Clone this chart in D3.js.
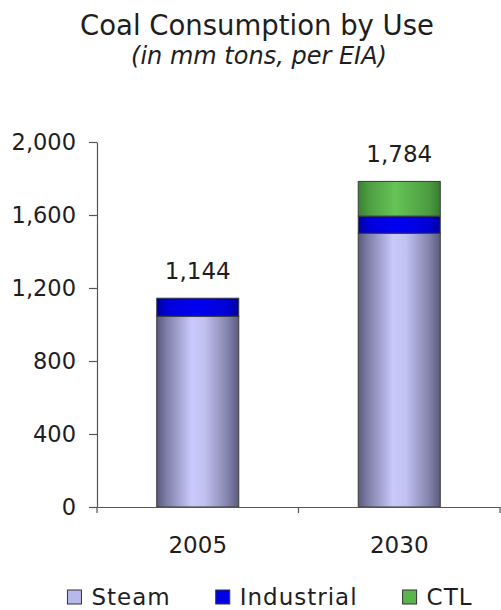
<!DOCTYPE html>
<html>
<head>
<meta charset="utf-8">
<script src="https://cdn.jsdelivr.net/npm/d3@7"></script>
<style>
  html, body { margin: 0; padding: 0; background: #fff; }
  svg { display: block; font-family: "DejaVu Sans", sans-serif; }
</style>
</head>
<body>
<svg id="chart" width="501" height="610"></svg>
<script>
const categories = ["2005", "2030"];
const seriesNames = ["Steam", "Industrial", "CTL"];
const steam = [1045, 1500];
const industrial = [99, 94];
const ctl = [0, 190];
const yTicks = [0, 400, 800, 1200, 1600, 2000];
const title = "Coal Consumption by Use";
const subtitle = "(in mm tons, per EIA)";

const rows = categories.map((c, i) => ({ cat: c, Steam: steam[i], Industrial: industrial[i], CTL: ctl[i] }));
const stack = d3.stack().keys(seriesNames)(rows);

const svg = d3.select("#chart");
const textColor = "#1e1e1e";
const axisColor = "#555";

const x = d3.scaleBand().domain(categories).range([97, 500]).paddingInner(0.593).paddingOuter(0.2965);
const y = d3.scaleLinear().domain([0, 2000]).range([507, 142]);

// gradients
const defs = svg.append("defs");
const grads = {
  Steam: [[0, "#5a5a7a"], [0.12, "#7e7ea8"], [0.42, "#c8c8fa"], [0.58, "#c2c2f2"], [0.86, "#8484ae"], [1, "#5c5c7c"]],
  Industrial: [[0, "#0000a0"], [0.14, "#0000dc"], [0.5, "#0000f2"], [0.86, "#0000d6"], [1, "#00009c"]],
  CTL: [[0, "#3a8232"], [0.14, "#4f9f43"], [0.45, "#66c456"], [0.86, "#4c9c41"], [1, "#387c30"]]
};
const legendFill = { Steam: "#b8b8ee", Industrial: "#0000e6", CTL: "#5ab64c" };
Object.entries(grads).forEach(([k, stops]) => {
  const g = defs.append("linearGradient").attr("id", "g-" + k).attr("x1", "0%").attr("x2", "100%").attr("y1", "0%").attr("y2", "0%");
  stops.forEach(([o, c]) => g.append("stop").attr("offset", o).attr("stop-color", c));
});

// title
svg.append("text").attr("x", 257).attr("y", 35).attr("text-anchor", "middle")
  .attr("font-size", 27.5).attr("fill", textColor).text(title);
svg.append("text").attr("x", 259).attr("y", 64).attr("text-anchor", "middle")
  .attr("font-size", 24).attr("font-style", "italic").attr("fill", textColor).text(subtitle);

// bars
stack.forEach(layer => {
  svg.append("g").selectAll("rect").data(layer.filter(d => d[1] - d[0] > 0)).join("rect")
    .attr("x", d => x(d.data.cat))
    .attr("width", x.bandwidth())
    .attr("y", d => y(d[1]))
    .attr("height", d => y(d[0]) - y(d[1]))
    .attr("fill", "url(#g-" + layer.key + ")")
    .attr("stroke", "#3a3a3a")
    .attr("stroke-width", 1);
});

// totals
svg.append("g").selectAll("text").data(rows).join("text")
  .attr("x", d => x(d.cat) + x.bandwidth() / 2)
  .attr("y", d => y(d.Steam + d.Industrial + d.CTL) - 19)
  .attr("text-anchor", "middle").attr("font-size", 23).attr("fill", textColor)
  .text(d => d3.format(",")(d.Steam + d.Industrial + d.CTL));

// y axis
const yAxis = svg.append("g").attr("transform", "translate(97,0)")
  .call(d3.axisLeft(y).tickValues(yTicks).tickFormat(d3.format(",")).tickSize(8).tickSizeOuter(0).tickPadding(13));
yAxis.selectAll("path, line").attr("stroke", axisColor).attr("stroke-width", 1.2);
yAxis.selectAll("text").attr("font-size", 22.5).attr("fill", textColor).attr("font-family", "DejaVu Sans");

// x axis
const xAxis = svg.append("g").attr("transform", "translate(0,507)")
  .call(d3.axisBottom(x).tickSize(0).tickSizeOuter(0).tickPadding(30));
xAxis.select("path").attr("stroke", axisColor).attr("stroke-width", 1.2);
xAxis.selectAll("text").attr("font-size", 23).attr("fill", textColor).attr("font-family", "DejaVu Sans");
const bounds = d3.range(categories.length + 1).map(i => x.range()[0] + i * x.step());
xAxis.selectAll("line.bound").data(bounds).join("line").attr("class", "bound")
  .attr("x1", d => d).attr("x2", d => d).attr("y1", 0).attr("y2", 6)
  .attr("stroke", axisColor).attr("stroke-width", 1.2);

// legend
const legend = svg.append("g");
let lx = 0;
seriesNames.forEach((name, i) => {
  const it = legend.append("g").attr("transform", `translate(${lx},0)`);
  it.append("rect").attr("x", 0).attr("y", -15).attr("width", 14).attr("height", 14)
    .attr("fill", legendFill[name]).attr("stroke", "#333").attr("stroke-width", 1);
  const t = it.append("text").attr("x", 24).attr("y", 0).attr("font-size", 23)
    .attr("letter-spacing", 1).attr("fill", textColor).text(name);
  lx += 24 + t.node().getComputedTextLength() + 45;
});
const lw = lx - 45;
legend.attr("transform", `translate(${270 - lw / 2},605)`);
</script>
</body>
</html>
